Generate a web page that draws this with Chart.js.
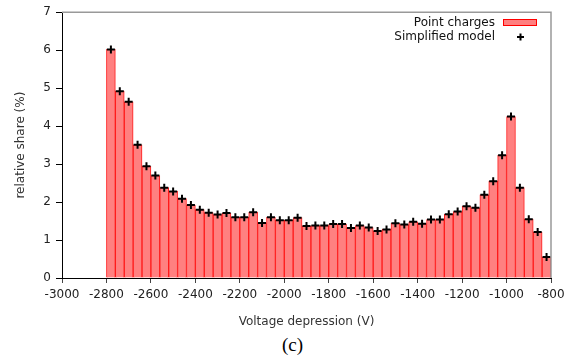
<!DOCTYPE html>
<html>
<head>
<meta charset="utf-8">
<script src="https://cdn.jsdelivr.net/npm/chart.js@4.4.1/dist/chart.umd.min.js"></script>
<style>
  body { margin: 0; background: #fff; }
  #wrap { position: relative; width: 581px; height: 358px; }
  #caption { position: absolute; left: 0; top: 334px; width: 581px; text-align: center;
             font-family: "Liberation Serif", serif; font-size: 19px; color: #000; padding-left: 2px; }
</style>
</head>
<body>
<div id="wrap">
  <canvas id="myChart" width="581" height="330"></canvas>
  <div id="caption">(c)</div>
</div>
<script>
// bin centres (V), 40 V wide bins
let bins = [-2780, -2740, -2700, -2660, -2620, -2580, -2540, -2500, -2460, -2420,
            -2380, -2340, -2300, -2260, -2220, -2180, -2140, -2100, -2060, -2020,
            -1980, -1940, -1900, -1860, -1820, -1780, -1740, -1700, -1660, -1620,
            -1580, -1540, -1500, -1460, -1420, -1380, -1340, -1300, -1260, -1220,
            -1180, -1140, -1100, -1060, -1020, -980, -940, -900, -860, -820];

// 막대: point charges (%)
let pointCharges = [6.02, 4.92, 4.64, 3.51, 2.94, 2.70, 2.38, 2.28, 2.09, 1.92,
                    1.80, 1.72, 1.67, 1.71, 1.60, 1.60, 1.73, 1.45, 1.60, 1.52,
                    1.52, 1.59, 1.37, 1.38, 1.38, 1.42, 1.42, 1.32, 1.38, 1.33,
                    1.24, 1.28, 1.44, 1.41, 1.48, 1.43, 1.54, 1.54, 1.68, 1.75,
                    1.89, 1.85, 2.19, 2.55, 3.23, 4.25, 2.38, 1.55, 1.21, 0.55];

// 점: simplified model (%)
let simplifiedModel = [6.02, 4.92, 4.64, 3.51, 2.94, 2.70, 2.38, 2.28, 2.09, 1.92,
                       1.80, 1.72, 1.67, 1.71, 1.60, 1.60, 1.73, 1.45, 1.60, 1.52,
                       1.52, 1.59, 1.37, 1.38, 1.38, 1.42, 1.42, 1.32, 1.38, 1.33,
                       1.24, 1.28, 1.44, 1.41, 1.48, 1.43, 1.54, 1.54, 1.68, 1.75,
                       1.89, 1.85, 2.19, 2.55, 3.23, 4.25, 2.38, 1.55, 1.21, 0.55];

let xTicks = [-3000, -2800, -2600, -2400, -2200, -2000, -1800, -1600, -1400, -1200, -1000, -800];
let yTicks = [0, 1, 2, 3, 4, 5, 6, 7];

let barData = [];
let modelData = [];
for (let i = 0; i < bins.length; i++) {
    barData.push({ x: bins[i], y: pointCharges[i] });
    modelData.push({ x: bins[i], y: simplifiedModel[i] });
}

const FONT = "'DejaVu Sans', sans-serif";

// 테두리 + 범례
let framePlugin = {
    id: "frame",
    afterDraw(chart) {
        let c = chart.ctx;
        let a = chart.chartArea;
        c.save();
        c.strokeStyle = "#999";
        c.lineWidth = 1.5;
        c.beginPath();
        c.moveTo(a.left, a.top);
        c.lineTo(a.right, a.top);
        c.lineTo(a.right, a.bottom);
        c.stroke();

        c.font = "12px " + FONT;
        c.fillStyle = "#111";
        c.textAlign = "right";
        c.textBaseline = "middle";
        c.fillText("Point charges", 495, 23);
        c.fillText("Simplified model", 495, 37);

        c.fillStyle = "#ff8080";
        c.fillRect(503, 19, 34, 7);
        c.strokeStyle = "#ff0000";
        c.lineWidth = 1;
        c.strokeRect(503.5, 19.5, 33, 6);

        c.strokeStyle = "#000";
        c.lineWidth = 2;
        c.beginPath();
        c.moveTo(517, 37);
        c.lineTo(524, 37);
        c.moveTo(520.5, 33.5);
        c.lineTo(520.5, 40.5);
        c.stroke();
        c.restore();
    }
};

let config = {
    type: "bar",
    data: {
        datasets: [
            {
                type: "scatter",
                label: "Simplified model",
                data: modelData,
                pointStyle: "cross",
                pointRadius: 4,
                borderColor: "#000",
                backgroundColor: "#000",
                borderWidth: 2,
                order: 1
            },
            {
                label: "Point charges",
                data: barData,
                backgroundColor: "#ff8080",
                borderColor: "#ff1a1a",
                borderWidth: 1,
                barPercentage: 1,
                categoryPercentage: 1,
                order: 2
            }
        ]
    },
    options: {
        responsive: false,
        animation: false,
        layout: { padding: { top: 9, right: 30, left: 0, bottom: 0 } },
        plugins: { legend: { display: false }, tooltip: { enabled: false } },
        scales: {
            x: {
                type: "linear",
                offset: false,
                min: -3000,
                max: -800,
                afterBuildTicks(scale) { scale.ticks = xTicks.map(v => ({ value: v })); },
                afterFit(scale) { scale.height = 52; },
                ticks: {
                    callback: v => String(v),
                    font: { family: FONT, size: 12 },
                    color: "#222",
                    padding: 5,
                    maxRotation: 0,
                    autoSkip: false
                },
                grid: { offset: false, drawOnChartArea: false, drawTicks: true, tickLength: 5, color: "#444" },
                border: { display: true, color: "#000", width: 1 },
                title: {
                    display: true,
                    text: "Voltage depression (V)",
                    font: { family: FONT, size: 12 },
                    color: "#333",
                    padding: { top: 0, bottom: 1 }
                }
            },
            y: {
                min: 0,
                max: 7,
                afterBuildTicks(scale) { scale.ticks = yTicks.map(v => ({ value: v })); },
                afterFit(scale) { scale.width = 62; },
                ticks: {
                    font: { family: FONT, size: 12 },
                    color: "#222",
                    padding: 5
                },
                grid: { drawOnChartArea: false, drawTicks: true, tickLength: 6, color: "#000" },
                border: { display: true, color: "#000", width: 1 },
                title: {
                    display: true,
                    text: "relative share (%)",
                    font: { family: FONT, size: 12 },
                    color: "#333",
                    padding: { top: 14, bottom: 0 }
                }
            }
        }
    },
    plugins: [framePlugin]
};

let ctx = document.getElementById("myChart");
new Chart(ctx, config);
</script>
</body>
</html>
